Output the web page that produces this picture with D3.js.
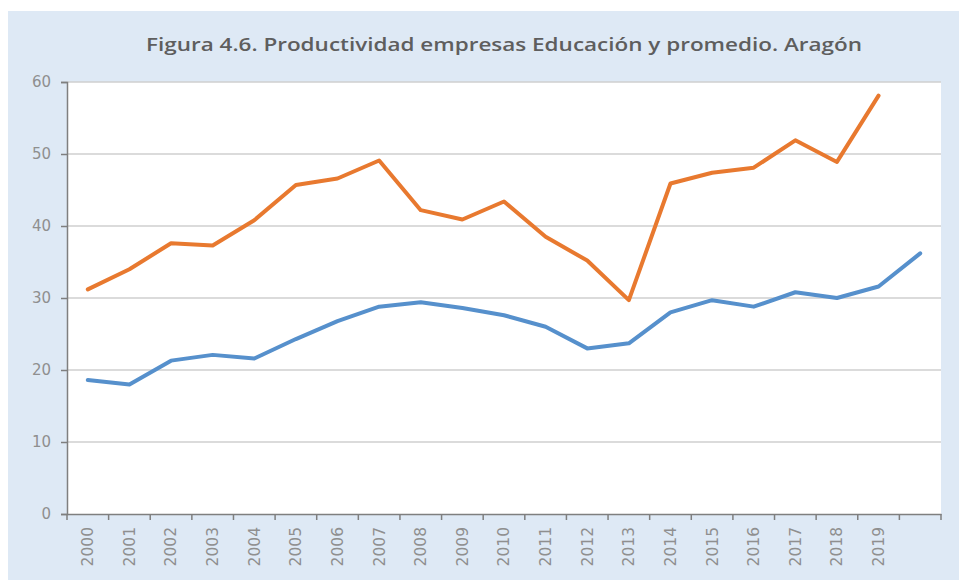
<!DOCTYPE html>
<html><head><meta charset="utf-8">
<script src="https://cdn.jsdelivr.net/npm/d3@7"></script>
<style>html,body{margin:0;padding:0;background:#fff;}svg{display:block;}</style>
</head><body>
<script>
const categories = ["2000","2001","2002","2003","2004","2005","2006","2007","2008","2009","2010","2011","2012","2013","2014","2015","2016","2017","2018","2019","2020"];
const tickLabels = ["2000","2001","2002","2003","2004","2005","2006","2007","2008","2009","2010","2011","2012","2013","2014","2015","2016","2017","2018","2019",""];
const educacion = [31.2, 34.0, 37.6, 37.3, 40.8, 45.7, 46.6, 49.1, 42.2, 40.9, 43.4, 38.5, 35.2, 29.7, 45.9, 47.4, 48.1, 51.9, 48.9, 58.1];
const promedio = [18.6, 18.0, 21.3, 22.1, 21.6, 24.3, 26.8, 28.8, 29.4, 28.6, 27.6, 26.0, 23.0, 23.7, 28.0, 29.7, 28.8, 30.8, 30.0, 31.6, 36.2];
const yTicks = [0, 10, 20, 30, 40, 50, 60];
const title = "Figura 4.6. Productividad empresas Educación y promedio. Aragón";

const W = 959, H = 580;
const svg = d3.select("body").append("svg").attr("width", W).attr("height", H);

svg.append("rect").attr("x", 8).attr("y", 11).attr("width", W - 8).attr("height", H - 11).attr("fill", "#dee9f5");

const x = d3.scaleBand().domain(categories).range([67, 941]).padding(0);
const y = d3.scaleLinear().domain([0, 60]).range([514, 82]);

svg.append("rect").attr("x", 67).attr("y", y(60)).attr("width", 941 - 67).attr("height", y(0) - y(60)).attr("fill", "#ffffff");

svg.append("text").attr("x", 504).attr("y", 51).attr("text-anchor", "middle")
  .attr("font-family", "Open Sans").attr("font-weight", 600).attr("font-size", 18)
  .attr("fill", "#5e5e5e").attr("textLength", 716).attr("lengthAdjust", "spacingAndGlyphs")
  .text(title);

// gridlines
svg.append("g").selectAll("line").data(yTicks.filter(d => d > 0)).join("line")
  .attr("x1", 67).attr("x2", 941).attr("y1", d => y(d)).attr("y2", d => y(d))
  .attr("stroke", "#cfcfcf").attr("stroke-width", 1.3);

// y axis
const yAxis = svg.append("g").attr("transform", "translate(67,0)")
  .call(d3.axisLeft(y).tickValues(yTicks).tickSize(6).tickPadding(10));
yAxis.select(".domain").attr("stroke", "#7f7f7f").attr("stroke-width", 1.5);
yAxis.selectAll(".tick line").attr("stroke", "#7f7f7f").attr("stroke-width", 1.5);
yAxis.selectAll(".tick text").attr("font-family", "DejaVu Sans").attr("font-size", 15).attr("fill", "#8f8f8f");

// x axis
const xAxis = svg.append("g").attr("transform", `translate(0,${y(0)})`)
  .call(d3.axisBottom(x).tickSize(0).tickFormat((d, i) => tickLabels[i]));
xAxis.select(".domain").attr("stroke", "#7f7f7f").attr("stroke-width", 1.5);
xAxis.selectAll(".tick text").attr("font-family", "DejaVu Sans").attr("font-size", 15.5).attr("fill", "#8f8f8f")
  .attr("transform", "rotate(-90)").attr("text-anchor", "end").attr("dy", "0.35em").attr("x", -13).attr("y", 0);
const edges = categories.map(c => x(c)).concat([x.range()[1]]);
xAxis.append("g").selectAll("line").data(edges).join("line")
  .attr("x1", d => d).attr("x2", d => d).attr("y1", 0).attr("y2", 6)
  .attr("stroke", "#7f7f7f").attr("stroke-width", 1.5);

const cx = c => x(c) + x.bandwidth() / 2;
const line = d3.line().x((d, i) => cx(categories[i])).y(d => y(d));

svg.append("path").datum(promedio).attr("d", line).attr("fill", "none")
  .attr("stroke", "#5690cc").attr("stroke-width", 4).attr("stroke-linejoin", "round").attr("stroke-linecap", "round");
svg.append("path").datum(educacion).attr("d", line).attr("fill", "none")
  .attr("stroke", "#e8792f").attr("stroke-width", 4).attr("stroke-linejoin", "round").attr("stroke-linecap", "round");
</script>
</body></html>
